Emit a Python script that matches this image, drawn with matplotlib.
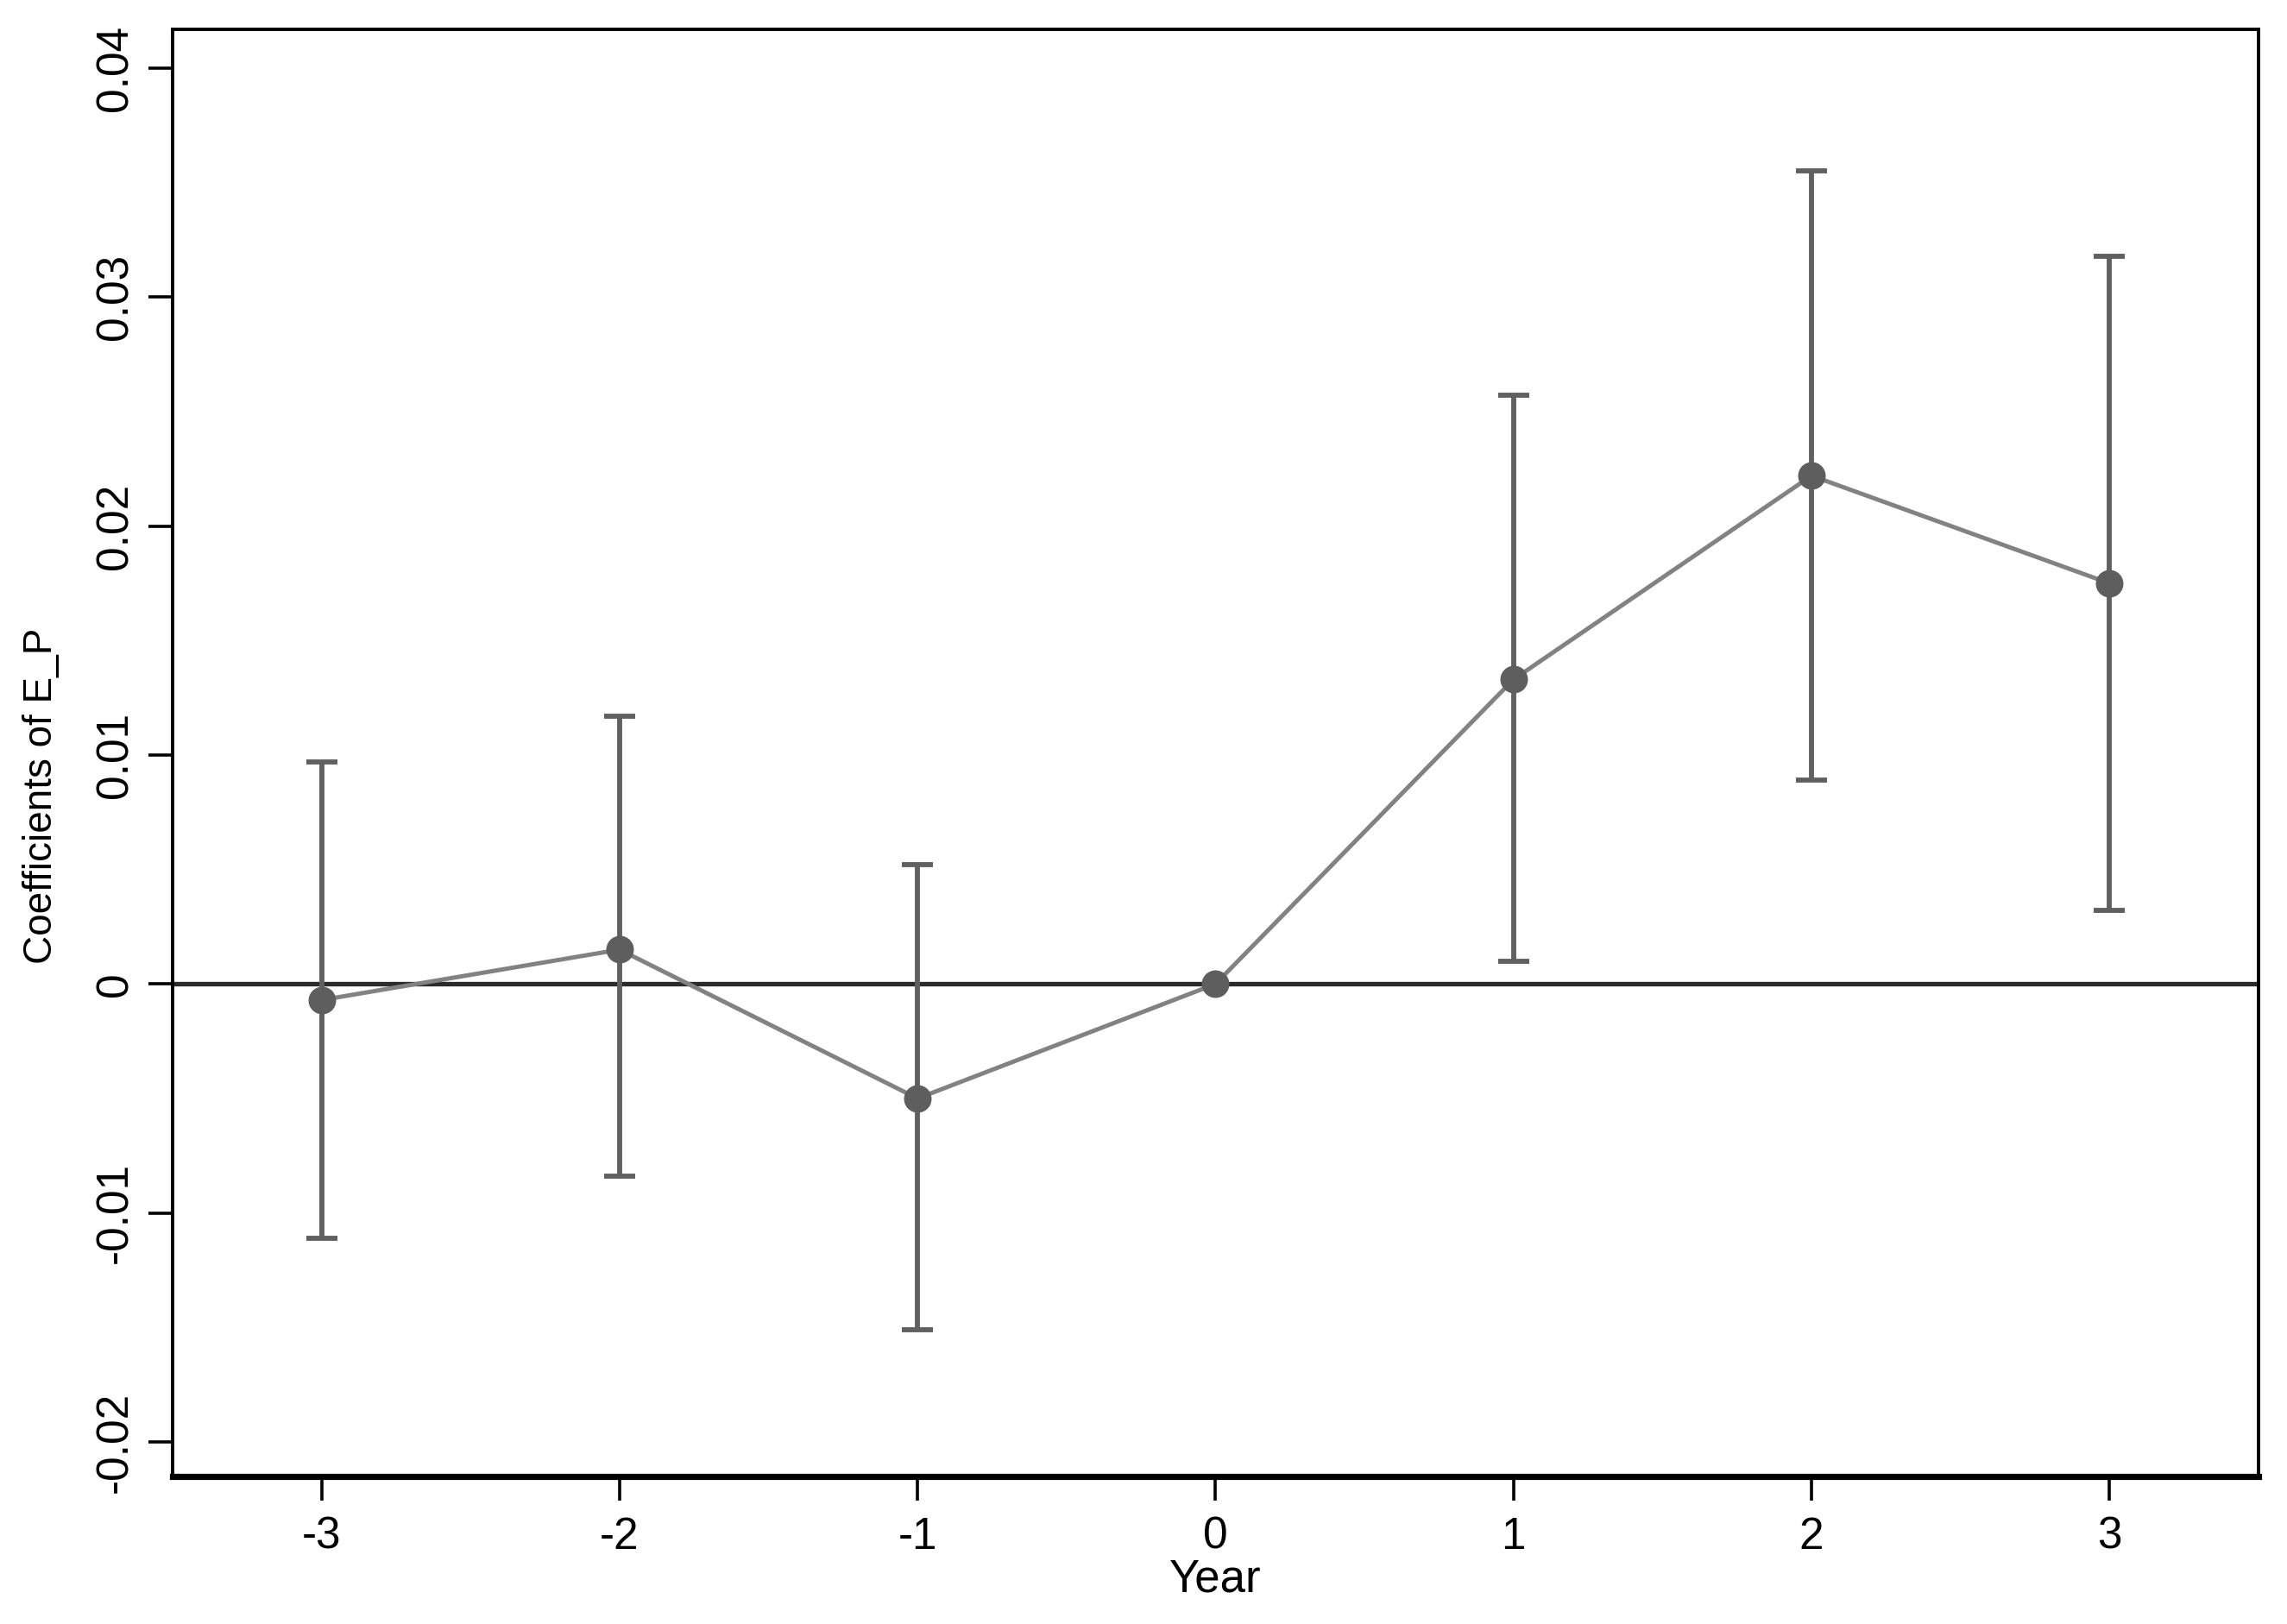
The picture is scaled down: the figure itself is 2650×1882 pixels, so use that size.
import matplotlib
matplotlib.use("Agg")
import matplotlib.pyplot as plt
import numpy as np

# data
years = [-3, -2, -1, 0, 1, 2, 3]
coef = [-0.0007, 0.0015, -0.0050, 0.0000, 0.0133, 0.0222, 0.0175]
ci_low = [-0.0111, -0.0084, -0.0151, 0.0000, 0.0010, 0.0089, 0.0032]
ci_high = [0.0097, 0.0117, 0.0052, 0.0000, 0.0257, 0.0355, 0.0318]

ytick_vals = [-0.02, -0.01, 0, 0.01, 0.02, 0.03, 0.04]
ytick_labels = ["-0.02", "-0.01", "0", "0.01", "0.02", "0.03", "0.04"]

plt.rcParams["font.family"] = ["Liberation Sans Narrow", "Liberation Sans", "DejaVu Sans"]

fig = plt.figure(figsize=(13.25, 9.41), dpi=200)
ax = fig.add_axes([0.0755, 0.091, 0.912, 0.891])

x = np.array(years)
y = np.array(coef)
lo = y - np.array(ci_low)
hi = np.array(ci_high) - y

# confidence intervals (no bar for the reference year)
mask = (lo + hi) > 0
ax.errorbar(x[mask], y[mask], yerr=[lo[mask], hi[mask]], fmt="none",
            ecolor="#606060", elinewidth=2.1, capsize=6.5, capthick=2.1, zorder=2)

ax.axhline(0, color="#2b2b2b", linewidth=1.9, zorder=1)

ax.plot(x, y, color="#828282", linewidth=1.8, zorder=3)
ax.plot(x, y, "o", color="#5e5e5e", markersize=10.5, zorder=4)

ax.set_xlim(-3.5, 3.5)
ax.set_ylim(-0.0215, 0.0417)
ax.set_xticks(years)
ax.set_xticklabels([str(v) for v in years], fontsize=18.5)
ax.set_yticks(ytick_vals)
ax.set_yticklabels(ytick_labels, fontsize=18.5, rotation=90, va="center")

ax.tick_params(axis="both", length=10, width=1.3, color="black")
ax.tick_params(axis="x", pad=6.5)
ax.tick_params(axis="y", pad=5)

for side in ["left", "top", "right"]:
    ax.spines[side].set_linewidth(1.4)
ax.spines["bottom"].set_linewidth(2.6)

ax.set_xlabel("Year", fontsize=19, family=["Liberation Sans", "DejaVu Sans"], labelpad=0)
ax.set_ylabel("Coefficients of E_P", fontsize=16.5)
ax.yaxis.set_label_coords(-0.054, 0.47)

fig.savefig("out.png", dpi=200)
